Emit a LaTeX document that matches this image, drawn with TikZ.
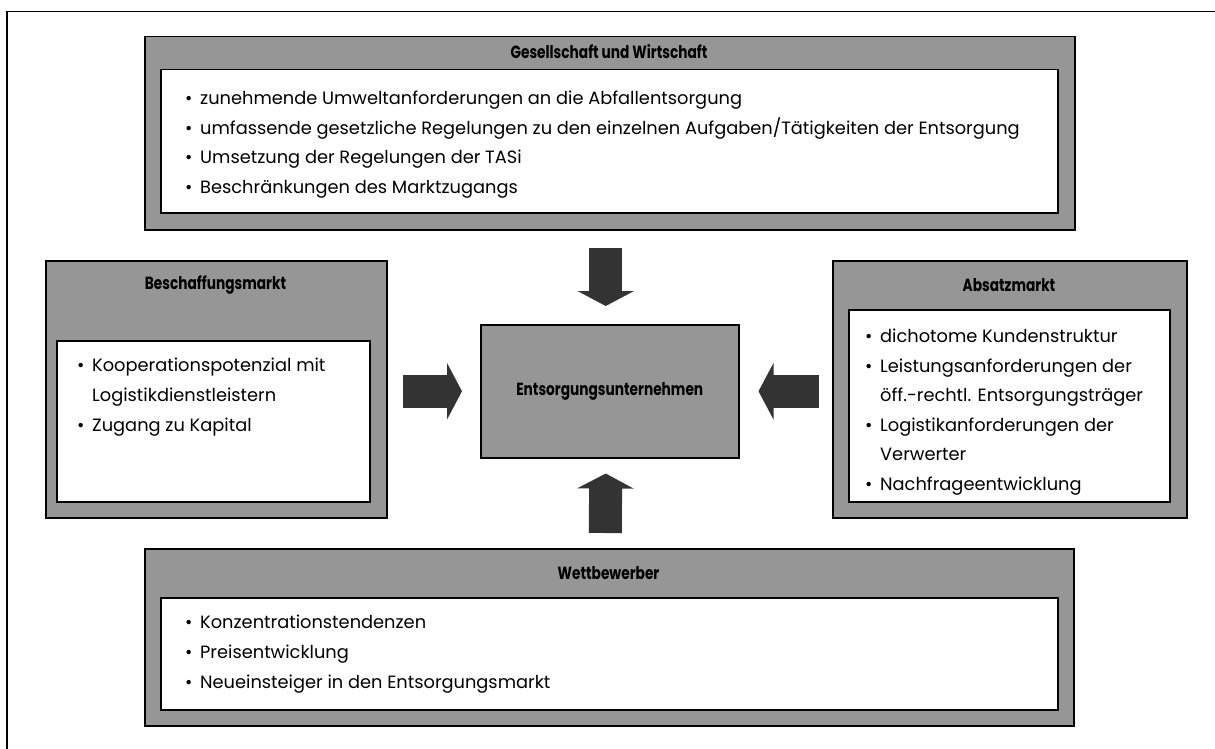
\documentclass[tikz,border=0pt]{standalone}
\usepackage{fontspec}
\usepackage{graphicx}
\setmainfont{Poppins}
\usetikzlibrary{arrows.meta,calc}

\definecolor{boxgray}{RGB}{150,150,150}
\definecolor{arrowgray}{RGB}{51,51,51}

\newcommand{\headtext}[1]{\scalebox{0.78}[1]{\fontsize{17.6}{20}\selectfont\bfseries #1}}
\newcommand{\bl}{\makebox[15pt][l]{\textbullet}}
\newcommand{\cont}{\hspace*{15pt}}

\begin{document}
\begin{tikzpicture}[x=1pt,y=-1pt,
  outerbox/.style={draw=black, line width=1.5pt, fill=boxgray, inner sep=0pt, anchor=north west},
  innerbox/.style={draw=black, line width=1.5pt, fill=white, inner sep=0pt, anchor=north west},
  heading/.style={inner sep=0pt},
  item/.style={font=\fontsize{17.8}{20}\selectfont, inner sep=0pt, anchor=base west},
  blockarrow/.style={draw=arrowgray, line width=33pt, -{Triangle[width=56pt,length=15pt]}}]

\useasboundingbox (0,0) rectangle (1215,749);

% frame line along the top and left edge
\draw[line width=1.5pt] (7,749) -- (7,11.5) -- (1215,11.5);

% Gesellschaft und Wirtschaft
\node[outerbox, minimum width=930pt, minimum height=193pt] (ges) at (144,36) {};
\node[innerbox, minimum width=897pt, minimum height=143pt] (gesin) at (160,69) {};
\node[heading] (gestitle) at (609,52) {\headtext{Gesellschaft und Wirtschaft}};
\node[item] (g1) at (185,105) {\bl zunehmende Umweltanforderungen an die Abfallentsorgung};
\node[item] (g2) at (185,134.5) {\bl umfassende gesetzliche Regelungen zu den einzelnen Aufgaben/Tätigkeiten der Entsorgung};
\node[item] (g3) at (185,164) {\bl Umsetzung der Regelungen der TASi};
\node[item] (g4) at (185,193.5) {\bl Beschränkungen des Marktzugangs};

% Beschaffungsmarkt
\node[outerbox, minimum width=341pt, minimum height=257pt] (bes) at (45,260) {};
\node[innerbox, minimum width=313pt, minimum height=161pt] (besin) at (56,340) {};
\node[heading] (bestitle) at (215.5,285) {\headtext{Beschaffungsmarkt}};
\node[item] (b1) at (77,371) {\bl Kooperationspotenzial mit};
\node[item] (b2) at (77,401) {\cont Logistikdienstleistern};
\node[item] (b3) at (77,431) {\bl Zugang zu Kapital};

% Absatzmarkt
\node[outerbox, minimum width=354pt, minimum height=257pt] (abs) at (832,260) {};
\node[innerbox, minimum width=321pt, minimum height=192pt] (absin) at (848,309) {};
\node[heading] (abstitle) at (1009,285) {\headtext{Absatzmarkt}};
\node[item] (a1) at (865,342) {\bl dichotome Kundenstruktur};
\node[item] (a2) at (865,372) {\bl Leistungsanforderungen der};
\node[item] (a3) at (865,401) {\cont öff.-rechtl. Entsorgungsträger};
\node[item] (a4) at (865,431) {\bl Logistikanforderungen der};
\node[item] (a5) at (865,460) {\cont Verwerter};
\node[item] (a6) at (865,490) {\bl Nachfrageentwicklung};

% Entsorgungsunternehmen
\node[outerbox, minimum width=258pt, minimum height=133pt] (unt) at (480,324) {};
\node[heading] (unttitle) at (unt.center) {\headtext{Entsorgungsunternehmen}};

% Wettbewerber
\node[outerbox, minimum width=929pt, minimum height=177pt] (wet) at (144,548) {};
\node[innerbox, minimum width=897pt, minimum height=112pt] (wetin) at (160,597) {};
\node[heading] (wettitle) at (608.5,573) {\headtext{Wettbewerber}};
\node[item] (w1) at (185,628) {\bl Konzentrationstendenzen};
\node[item] (w2) at (185,658) {\bl Preisentwicklung};
\node[item] (w3) at (185,688) {\bl Neueinsteiger in den Entsorgungsmarkt};

% influences on the company
\draw[blockarrow] ($(ges.south)+(-4,17)$) -- ($(unt.north)+(-4,-18)$);
\draw[blockarrow] ($(wet.north)+(-4,-15)$) -- ($(unt.south)+(-4,15)$);
\draw[blockarrow] ($(bes.east)+(15,2)$) -- ($(unt.west)+(-18,0)$);
\draw[blockarrow] ($(abs.west)+(-13,2)$) -- ($(unt.east)+(19,0)$);

\end{tikzpicture}
\end{document}
